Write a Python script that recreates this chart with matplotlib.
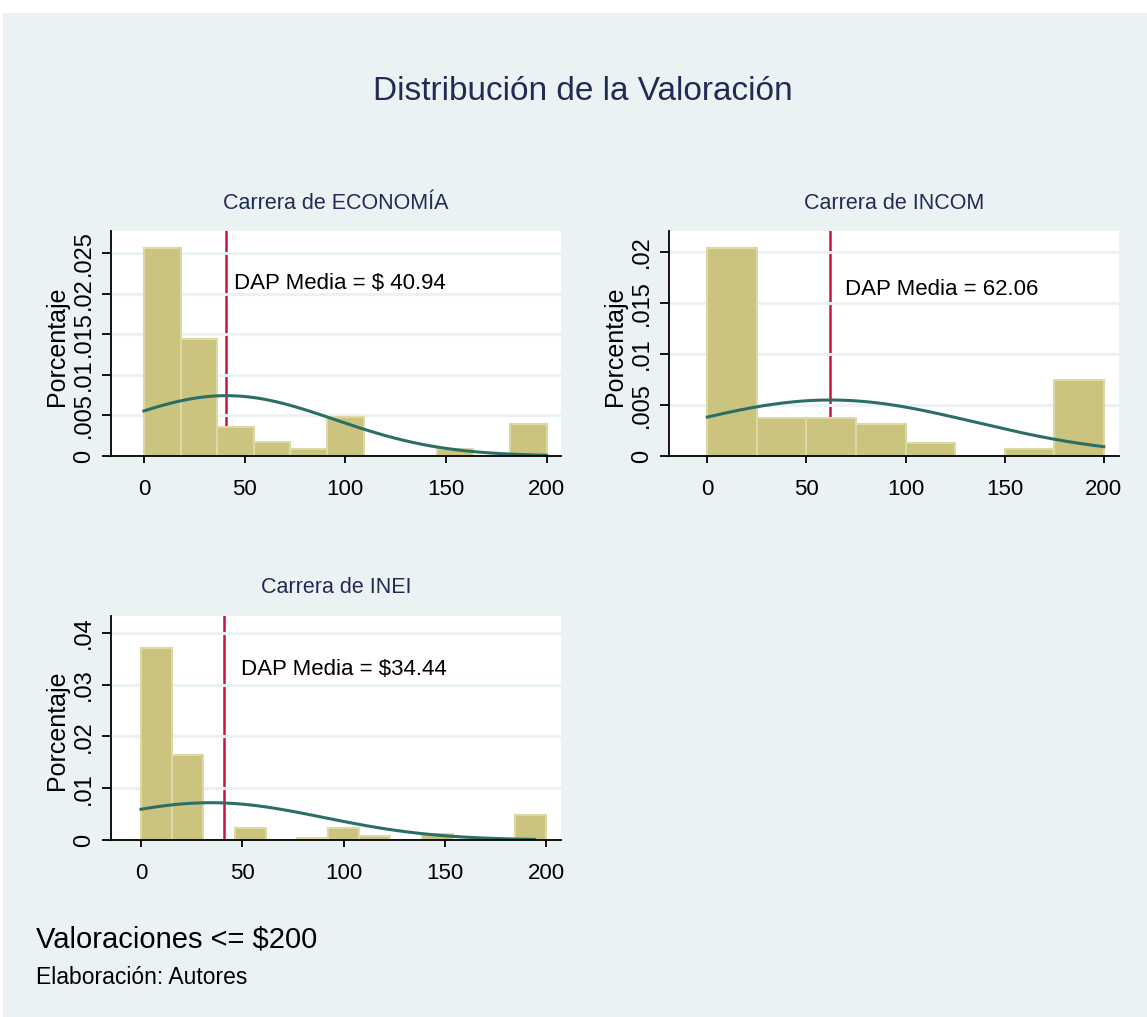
import numpy as np
import matplotlib
matplotlib.use("Agg")
import matplotlib.pyplot as plt
from matplotlib.patches import Rectangle

plt.rcParams['font.family'] = ['Liberation Sans', 'DejaVu Sans']

# --- datos ---
titulos = ["Carrera de ECONOMÍA", "Carrera de INCOM", "Carrera de INEI"]
# densidades por intervalo (0 a 200)
dens_eco = [0.02566, 0.01439, 0.00354, 0.00169, 0.00086, 0.00477,
            0.0, 0.0, 0.0009, 0.0, 0.00395]
dens_incom = [0.02033, 0.00372, 0.00372, 0.00316, 0.00124, 0.0, 0.00069, 0.00744]
dens_inei = [0.03697, 0.01645, 0.0, 0.00232, 0.0, 0.00039, 0.00232,
             0.00071, 0.0, 0.00116, 0.0, 0.0, 0.0049]
media = [40.94, 62.06, 34.44]
desv = [53.6, 72.8, 55.4]
curva_max = [200, 200, 194]
linea_media = [40.94, 62.06, 40.94]
textos = ["DAP Media = $ 40.94", "DAP Media = 62.06", "DAP Media = $34.44"]
texto_pos = [(44.7, 0.0213), (69.4, 0.01634), (49.3, 0.0330)]
yticks = [[0, .005, .01, .015, .02, .025], [0, .005, .01, .015, .02], [0, .01, .02, .03, .04]]
yticklabels = [["0", ".005", ".01", ".015", ".02", ".025"],
               ["0", ".005", ".01", ".015", ".02"],
               ["0", ".01", ".02", ".03", ".04"]]
xticks = [0, 50, 100, 150, 200]
xlims = [(-16.2, 207.1), (-19.4, 207.5), (-14.65, 207.2)]
ylims = [(0, 0.02775), (0, 0.02202), (0, 0.0433)]

W, H = 1147, 1017
bg = "#eaf2f3"
barra = "#cbc47e"
borde = "#ddd8a6"
verde = "#2b6e66"
rojo = "#c8163f"
azul = "#1f2d55"

fig = plt.figure(figsize=(W/100, H/100), dpi=100)
fig.patches.append(Rectangle((3/W, 0), 1 - 3/W, (H-13)/H, transform=fig.transFigure,
                             facecolor=bg, edgecolor='none', zorder=-10))

# posiciones en pixeles: izq, der, arriba, abajo
cajas = [(111.3, 561, 231, 456), (668.9, 1118.7, 231, 456), (111.3, 561, 615.7, 840)]
todas = [dens_eco, dens_incom, dens_inei]

for i in range(3):
    l, r, t, b = cajas[i]
    ax = fig.add_axes([l/W, (H-b)/H, (r-l)/W, (b-t)/H])
    ax.set_facecolor("white")
    d = todas[i]
    bordes = np.linspace(0, 200, len(d)+1)
    ancho = bordes[1] - bordes[0]
    ax.bar(bordes[:-1], d, width=ancho, align='edge', color=barra,
           edgecolor=borde, linewidth=1.5, zorder=3)
    ax.axvline(linea_media[i], color=rojo, lw=1.8, zorder=2)
    xx = np.linspace(0, curva_max[i], 300)
    yy = np.exp(-(xx - media[i])**2 / (2*desv[i]**2)) / (desv[i]*np.sqrt(2*np.pi))
    ax.plot(xx, yy, color=verde, lw=2.2, zorder=4)
    ax.text(texto_pos[i][0], texto_pos[i][1], textos[i], fontsize=16,
            va='center', ha='left', color='black', zorder=5)
    ax.set_xlim(*xlims[i])
    ax.set_ylim(*ylims[i])
    ax.set_yticks(yticks[i])
    ax.set_yticklabels(yticklabels[i], rotation=90, va='center', fontsize=17)
    ax.set_xticks(xticks)
    ax.set_xticklabels([str(v) for v in xticks], fontsize=16)
    ax.grid(axis='y', color=bg, lw=2.2, zorder=1)
    ax.set_axisbelow(False)
    for s in ['top', 'right']:
        ax.spines[s].set_visible(False)
    for s in ['left', 'bottom']:
        ax.spines[s].set_linewidth(1.3)
        ax.spines[s].set_zorder(6)
    ax.tick_params(axis='y', length=6.2, width=1.3, pad=5.5)
    ax.tick_params(axis='x', length=5, width=1.3, pad=11.5)
    ax.set_ylabel("Porcentaje", fontsize=18)
    ax.yaxis.set_label_coords(-0.094, 0.49)
    ax.set_title(titulos[i], fontsize=15.5, color=azul, pad=16)

fig.text(583/W, 1 - 91/H, "Distribución de la Valoración", fontsize=24,
         color=azul, ha='center', va='center')
fig.text(36/W, 1 - 940/H, "Valoraciones <= $200", fontsize=21, ha='left', va='center')
fig.text(36/W, 1 - 978/H, "Elaboración: Autores", fontsize=16.5, ha='left', va='center')

fig.savefig("out.png", dpi=100)
